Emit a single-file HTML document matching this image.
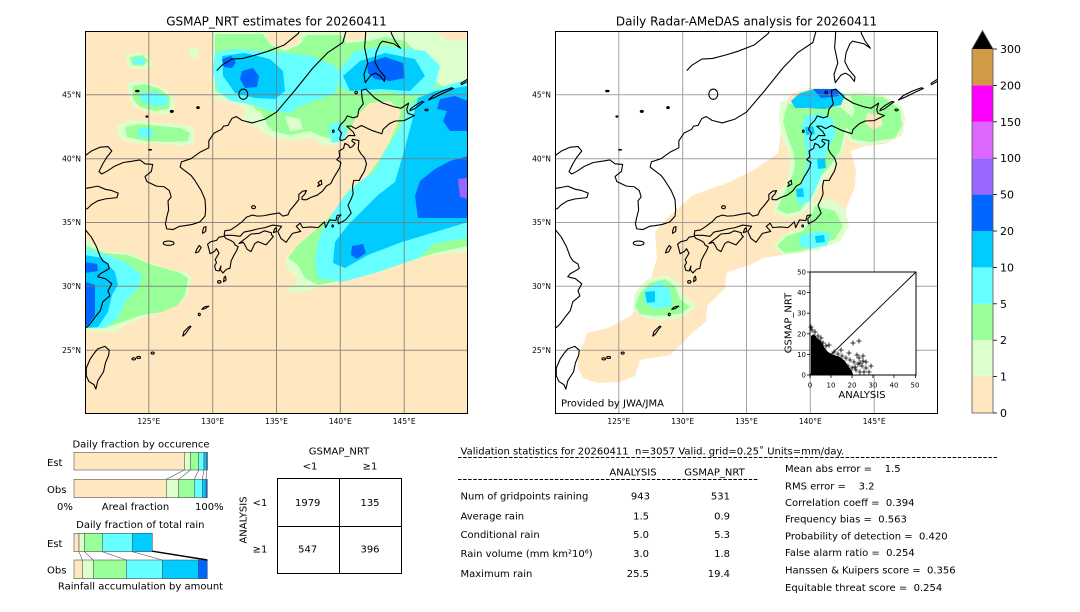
<!DOCTYPE html>
<html><head><meta charset="utf-8"><style>
html,body{margin:0;padding:0;background:#fff;width:1080px;height:612px;overflow:hidden}
svg text{font-family:"DejaVu Sans","Liberation Sans",sans-serif;fill:#000}
</style></head><body>
<svg width="1080" height="612" viewBox="0 0 1080 612" xmlns="http://www.w3.org/2000/svg">
<rect width="1080" height="612" fill="#fff"/>

<!-- Titles -->
<text x="276.5" y="25.5" font-size="12" text-anchor="middle">GSMAP_NRT estimates for 20260411</text>
<text x="746.5" y="25.5" font-size="12" text-anchor="middle">Daily Radar-AMeDAS analysis for 20260411</text>

<!-- ============ LEFT MAP ============ -->
<svg x="85" y="31" width="383" height="383" viewBox="0 0 383 383" overflow="hidden">
<rect width="383" height="383" fill="#FFE8BF"/>
<g fill="#DCFFCC">
<polygon points="127,0 383,0 383,221 350,224 317,232 283,244 253,251 233,257 213,262 200,259 210,254 212,247 203,238 200,230 207,221 230,201 247,191 262,174 270,160 287,147 300,127 307,113 317,93 323,77 320,65 300,62 277,67 267,80 260,100 253,113 240,115 227,107 207,110 187,107 173,97 167,80 147,72 127,67"/>
<polygon points="105,15 115,18 112,28 104,26"/>
<polygon points="40,24 55,21 66,26 67,35 57,39 44,37"/>
<polygon points="42,52 55,50 70,54 85,62 90,72 88,82 75,83 60,80 48,75 44,65"/>
<polygon points="32,94 45,89 60,90 75,92 90,93 105,95 110,102 108,113 95,115 75,112 55,113 38,110 32,102"/>
<polygon points="0,207 20,221 43,222 63,231 80,237 100,241 107,247 103,261 97,271 83,277 67,284 57,287 40,294 30,301 13,301 0,301"/>
</g>
<g fill="#FFE8BF">
<polygon points="180,0 215,0 213,13 198,18 184,12"/>
<polygon points="258,0 282,0 280,8 262,10"/>
<polygon points="350,0 383,0 383,10 362,9"/>
</g>
<g fill="#99FF99">
<polygon points="130,3 178,3 186,14 200,20 214,14 222,4 256,4 262,12 283,10 300,6 320,10 333,22 345,45 358,56 383,50 383,215 350,222 300,238 260,249 233,254 220,247 213,234 203,227 213,214 233,197 253,177 263,160 280,148 295,128 305,110 313,92 316,80 305,70 285,72 272,85 262,103 250,108 238,106 225,100 205,104 188,100 177,88 168,75 148,68 130,60"/>
<polygon points="48,55 60,53 75,58 85,66 84,78 70,80 55,76 48,68"/>
<polygon points="40,96 55,93 75,95 95,97 105,102 103,110 85,111 60,110 42,106"/>
<polygon points="45,26 58,24 63,30 58,35 47,34"/>
<polygon points="0,214 20,222 43,224 67,234 93,241 103,247 100,264 93,274 77,281 57,284 37,291 20,297 0,297"/>
</g>
<g fill="#DCFFCC">
<polygon points="160,78 175,80 182,92 170,96 158,88"/>
<polygon points="200,85 215,88 218,98 205,100"/>
</g>
<g fill="#66FFFF">
<polygon points="130,22 150,18 175,20 200,22 225,25 250,35 255,45 250,62 235,68 215,75 205,82 185,80 165,73 145,70 133,60 128,40"/>
<polygon points="253,40 270,20 300,15 340,20 355,35 350,55 330,65 300,60 275,62 255,58"/>
<polygon points="243,95 255,90 262,100 258,110 247,112"/>
<polygon points="325,75 340,60 360,55 383,48 383,207 350,212 333,227 293,241 257,251 233,247 230,231 233,211 240,194 260,164 273,152 290,140 300,120 313,100"/>
<polygon points="55,62 70,60 83,66 82,74 68,75 56,70"/>
<polygon points="53,97 67,97 68,106 55,107"/>
<polygon points="48,28 58,27 60,33 49,33"/>
<polygon points="0,217 23,224 40,231 57,244 53,257 40,271 33,287 20,297 0,297"/>
</g>
<g fill="#00CCFF">
<polygon points="137,25 160,22 185,28 198,40 200,60 190,68 170,67 150,62 138,45"/>
<polygon points="258,45 275,30 300,22 330,28 340,45 325,60 295,58 265,60"/>
<polygon points="333,67 350,60 383,55 383,191 350,201 317,211 283,224 260,237 248,232 250,211 263,194 280,177 293,164 310,151 320,117"/>
<polygon points="0,224 17,227 30,241 33,254 27,264 23,281 13,296 0,297"/>
</g>
<g fill="#0066FF">
<polygon points="137,28 146,25 151,31 147,37 139,36"/>
<polygon points="157,40 168,37 174,45 172,56 160,57 155,48"/>
<polygon points="282,32 300,26 318,32 320,47 305,50 290,48 283,42"/>
<polygon points="355,68 370,65 383,70 383,100 365,100 358,90 362,80 352,78"/>
<polygon points="383,125 365,130 350,138 335,150 330,165 333,187 383,187"/>
<polygon points="267,215 278,213 281,222 272,228 266,224"/>
<polygon points="0,251 10,254 10,284 3,294 0,294"/>
<polygon points="0,231 12,233 13,240 0,242"/>
</g>
<polygon fill="#9966FF" points="373,148 383,147 383,168 375,166"/>
<g stroke="#7a7a7a" stroke-width="1" opacity="0.85">
<line x1="63.8" y1="0" x2="63.8" y2="383"/><line x1="127.7" y1="0" x2="127.7" y2="383"/><line x1="191.5" y1="0" x2="191.5" y2="383"/><line x1="255.3" y1="0" x2="255.3" y2="383"/><line x1="319.2" y1="0" x2="319.2" y2="383"/>
<line y1="63.8" x1="0" y2="63.8" x2="383"/><line y1="127.7" x1="0" y2="127.7" x2="383"/><line y1="191.5" x1="0" y2="191.5" x2="383"/><line y1="255.3" x1="0" y2="255.3" x2="383"/><line y1="319.2" x1="0" y2="319.2" x2="383"/>
</g>
<g transform="matrix(12.767 0 0 -12.767 -1532.04 638.35)" fill="none" stroke="#000" stroke-width="1.1" stroke-linejoin="round">
<polyline vector-effect="non-scaling-stroke" points="119.9,40.15 120.5,40.6 121.2,40.9 121.8,40.95 122.1,40.6 121.7,40.1 121.4,39.6 121.1,39.0 121.3,38.8 121.7,39.0 122.3,39.4 123.0,39.7 123.7,39.8 124.3,39.9 124.7,39.6 125.3,39.55 125.2,39.0 124.7,38.6 124.85,38.2 125.6,37.85 126.2,37.8 126.6,37.5 126.75,37.0 126.5,36.7 126.55,36.0 126.4,35.4 126.3,34.9 126.4,34.5 126.9,34.45 127.4,34.7 127.8,34.75 128.4,34.85 129.0,35.05 129.4,35.5 129.45,36.0 129.4,36.8 129.1,37.5 128.6,38.3 128.3,38.7 127.7,39.15 127.45,39.35 127.55,39.75 128.3,40.0 129.0,40.5 129.7,40.85 129.7,41.4 130.1,42.0 130.7,42.3 130.85,42.55 131.2,42.6 131.5,43.15 131.85,43.3 132.0,43.2 132.3,43.0 133.1,42.8 134.1,43.1 135.0,43.65 136.4,45.3 137.85,47.1 139.0,48.3 140.2,49.1 140.5,50.2"/>
<polyline vector-effect="non-scaling-stroke" points="119.9,37.65 120.5,37.75 121.0,37.85 121.6,37.6 122.1,37.5 122.6,37.3 122.5,36.95 121.6,36.85 121.0,36.7 120.5,36.4 120.2,36.1 119.9,36.0"/>
<polyline vector-effect="non-scaling-stroke" points="119.9,34.6 120.5,33.85 120.9,33.1 121.2,32.3 121.4,32.0 121.8,31.75 121.9,31.4 121.4,31.1 121.2,31.0 121.0,30.75 121.6,30.6 122.1,30.2 121.8,29.65 121.95,29.25 121.4,28.8 121.2,28.1 120.8,27.6 120.4,27.05 119.9,26.6"/>
<polyline vector-effect="non-scaling-stroke" points="130.32,46.9 130.7,47.3 131.5,47.8 132.35,47.85 133.3,48.1 134.3,48.4 135.6,48.9 136.7,49.8 136.9,50.2"/>
<polyline vector-effect="non-scaling-stroke" points="142.0,50.2 141.95,49.3 141.9,48.7 142.15,47.5 141.85,46.6 141.95,45.95 142.4,46.55 142.75,46.7 143.1,46.5 143.45,46.05 143.5,46.4 143.0,47.0 142.7,47.6 142.8,48.3 143.1,49.0 143.3,49.2 144.2,49.0 144.7,48.65 144.3,49.2 144.0,49.8 143.95,50.2"/>
<polygon vector-effect="non-scaling-stroke" points="130.9,34.0 130.95,34.35 131.4,34.42 131.8,34.68 132.3,35.05 132.65,35.42 133.1,35.58 133.5,35.5 134.0,35.53 134.5,35.63 135.2,35.75 135.5,35.5 135.9,35.6 136.05,35.95 136.4,36.35 136.75,36.8 136.75,37.2 137.05,37.45 137.35,37.5 137.2,37.2 137.0,37.0 137.0,36.8 137.35,36.78 137.65,36.95 138.2,37.15 138.6,37.45 138.9,37.85 139.25,38.05 139.5,38.55 139.75,38.95 139.95,39.3 140.05,39.7 139.72,39.92 139.95,40.15 139.9,40.6 140.25,40.8 140.35,41.2 140.65,41.05 140.75,40.85 140.95,40.95 141.15,41.2 140.9,41.38 140.95,41.52 141.45,41.42 141.4,40.75 141.6,40.4 141.9,40.05 142.05,39.6 141.9,39.05 141.55,38.45 141.5,38.3 141.05,38.3 140.95,37.8 141.0,37.25 140.85,36.85 140.6,36.35 140.85,35.73 140.4,35.2 139.85,34.9 139.8,35.3 140.05,35.6 139.75,35.55 139.65,35.15 139.15,35.2 138.85,34.6 138.75,35.05 138.25,34.6 137.65,34.65 137.05,34.6 136.85,34.95 136.55,34.7 136.9,34.3 136.25,34.15 135.75,33.45 135.35,33.75 135.1,34.3 135.4,34.7 134.7,34.8 134.1,34.6 133.55,34.5 132.95,34.35 132.45,34.25 132.15,33.92 131.55,34.0"/>
<polygon vector-effect="non-scaling-stroke" points="132.05,33.35 132.7,33.85 133.0,34.1 133.65,34.15 134.05,34.35 134.6,34.2 134.6,34.05 134.75,33.9 134.18,33.25 133.55,33.5 133.3,33.35 133.0,32.72 132.7,32.9 132.55,33.2 132.4,33.45"/>
<polygon vector-effect="non-scaling-stroke" points="130.9,33.92 131.05,33.75 131.4,33.6 131.65,33.45 131.75,33.25 132.0,33.1 131.85,32.75 131.7,32.5 131.45,32.0 131.35,31.4 131.1,31.35 130.8,31.05 130.6,31.3 130.65,31.6 130.5,31.2 130.25,31.25 130.15,31.6 130.3,31.85 130.2,32.1 130.5,32.6 130.3,32.95 130.15,32.75 129.8,32.55 129.7,32.95 129.6,33.3 129.85,33.5 130.3,33.6 130.5,33.85"/>
<polygon vector-effect="non-scaling-stroke" points="140.05,41.42 140.35,41.5 140.65,41.82 141.15,41.8 141.0,42.1 140.5,42.55 140.85,42.55 141.2,42.35 141.65,42.6 142.5,42.2 143.25,41.95 143.35,42.3 143.85,42.75 144.3,42.95 145.0,42.98 145.55,43.25 145.8,43.38 145.3,43.55 145.2,43.85 145.35,44.35 144.75,43.95 144.25,44.05 143.35,44.35 142.7,44.75 142.0,45.45 141.65,45.35 141.7,44.75 141.8,44.3 141.45,43.85 141.35,43.3 141.0,43.2 140.55,43.35 140.35,43.0 140.0,42.65 139.85,42.3 140.1,42.0 139.95,41.55"/>
<polygon vector-effect="non-scaling-stroke" points="121.0,25.1 121.55,25.3 121.9,25.0 121.85,24.6 121.6,24.0 121.45,23.3 121.0,22.6 120.85,21.95 120.7,22.3 120.3,22.55 120.1,23.0 120.1,23.6 120.4,24.3 120.75,24.8"/>
<polygon vector-effect="non-scaling-stroke" points="129.2,34.15 129.45,34.3 129.48,34.68 129.3,34.62 129.22,34.35"/>
<polygon vector-effect="non-scaling-stroke" points="128.65,32.62 128.9,32.7 129.1,33.05 128.95,33.2 128.75,32.9"/>
<polygon vector-effect="non-scaling-stroke" points="138.22,37.82 138.55,38.0 138.5,38.32 138.25,38.12 138.35,38.0"/>
<polygon vector-effect="non-scaling-stroke" points="134.75,34.2 135.0,34.3 134.98,34.6 134.85,34.5"/>
<polygon vector-effect="non-scaling-stroke" points="130.85,30.35 131.05,30.5 131.0,30.8 130.9,30.7"/>
<polygon vector-effect="non-scaling-stroke" points="129.15,28.2 129.4,28.25 129.7,28.45 129.45,28.42 129.3,28.35"/>
<polygon vector-effect="non-scaling-stroke" points="127.65,26.1 127.85,26.25 128.05,26.55 128.3,26.85 128.2,26.88 127.95,26.65 127.75,26.45 127.7,26.25"/>
<polygon vector-effect="non-scaling-stroke" points="145.45,43.75 145.8,43.9 146.2,44.2 146.55,44.45 146.4,44.48 145.9,44.2 145.5,43.9"/>
<polygon vector-effect="non-scaling-stroke" points="146.9,44.6 147.5,44.85 148.2,45.2 148.85,45.5 148.7,45.55 148.0,45.3 147.3,44.95"/>
<polygon vector-effect="non-scaling-stroke" points="149.5,45.8 150.2,46.2 150.0,46.25 149.45,45.9"/>
<ellipse vector-effect="non-scaling-stroke" cx="126.55" cy="33.38" rx="0.42" ry="0.17"/>
<ellipse vector-effect="non-scaling-stroke" cx="133.2" cy="36.2" rx="0.15" ry="0.12"/>
<ellipse vector-effect="non-scaling-stroke" cx="132.4" cy="45.05" rx="0.35" ry="0.4"/>
<ellipse vector-effect="non-scaling-stroke" cx="130.52" cy="30.35" rx="0.13" ry="0.1"/>
<ellipse vector-effect="non-scaling-stroke" cx="128.95" cy="27.8" rx="0.08" ry="0.1"/>
<ellipse vector-effect="non-scaling-stroke" cx="125.3" cy="24.77" rx="0.12" ry="0.08"/>
<ellipse vector-effect="non-scaling-stroke" cx="124.2" cy="24.43" rx="0.15" ry="0.08"/>
<ellipse vector-effect="non-scaling-stroke" cx="123.82" cy="24.32" rx="0.14" ry="0.08"/>
<ellipse vector-effect="non-scaling-stroke" cx="141.24" cy="45.18" rx="0.1" ry="0.1"/>
<ellipse vector-effect="non-scaling-stroke" cx="139.45" cy="42.15" rx="0.06" ry="0.1"/>
<ellipse vector-effect="non-scaling-stroke" cx="146.75" cy="43.82" rx="0.12" ry="0.07"/>
<ellipse vector-effect="non-scaling-stroke" cx="139.4" cy="34.73" rx="0.06" ry="0.08"/>
<g fill="#000" stroke="none"><ellipse cx="124.1" cy="45.3" rx="0.18" ry="0.1"/><ellipse cx="126.8" cy="43.7" rx="0.16" ry="0.12"/><ellipse cx="128.85" cy="44.0" rx="0.14" ry="0.12"/><ellipse cx="124.85" cy="43.3" rx="0.12" ry="0.09"/><ellipse cx="125.1" cy="40.7" rx="0.16" ry="0.07"/></g>
</g>
<rect x="0.5" y="0.5" width="382" height="382" fill="none" stroke="#000" stroke-width="1"/>
</svg>

<!-- Left map labels -->
<g font-size="7.5" text-anchor="end">
<text x="81" y="97.5">45°N</text><text x="81" y="161.4">40°N</text><text x="81" y="225.2">35°N</text><text x="81" y="289">30°N</text><text x="81" y="352.9">25°N</text>
</g>
<g font-size="7.5" text-anchor="middle">
<text x="148.8" y="424">125°E</text><text x="212.7" y="424">130°E</text><text x="276.5" y="424">135°E</text><text x="340.3" y="424">140°E</text><text x="404.2" y="424">145°E</text>
</g>

<!-- ============ RIGHT MAP ============ -->
<svg x="555" y="31" width="383" height="383" viewBox="0 0 383 383" overflow="hidden">
<rect width="383" height="383" fill="#fff"/>
<polygon fill="#FFE8BF" points="23,327 32,302 53,297 77,284 95,251 102,227 100,201 108,191 138,164 175,151 202,137 223,122 226,100 230,72 238,62 255,57 272,57 288,64 308,62 328,66 347,76 350,88 347,104 330,113 310,115 296,120 301,140 300,156 293,172 286,195 272,207 252,217 228,224 208,227 195,234 172,241 170,257 152,275 151,291 138,301 128,312 115,324 85,329 80,345 65,351 42,352 28,347 23,337"/>
<g fill="#DCFFCC">
<polygon points="285,62 310,61 330,65 347,76 349,90 345,104 330,112 305,114 290,108 285,95 292,82"/>
<polygon points="226,70 250,74 285,74 300,84 292,100 288,120 278,138 265,155 258,170 248,183 232,187 218,182 222,165 232,150 235,135 232,118 226,102 224,85"/>
<polygon points="255,172 275,168 290,178 294,195 285,210 265,218 245,222 228,224 218,216 228,204 245,198 252,188"/>
<polygon points="80,262 92,248 112,244 124,252 130,265 142,274 130,285 110,290 90,287 78,278"/>
</g>
<g fill="#99FF99">
<polygon points="295,64 328,66 345,78 347,95 340,107 315,111 297,108 292,95 300,80"/>
<polygon points="233,72 250,78 285,76 297,86 290,100 285,120 275,135 262,150 255,165 245,180 232,183 222,178 228,165 236,150 240,135 238,120 232,105 228,90"/>
<polygon points="260,175 280,180 288,195 280,208 262,215 245,220 230,222 222,215 232,205 248,200 255,190"/>
<polygon points="85,262 95,252 110,248 120,255 125,268 135,276 125,283 100,285 85,283 80,275"/>
</g>
<polygon fill="#FFE8BF" points="312,82 325,84 328,94 318,99 310,92"/>
<g fill="#66FFFF">
<polygon points="250,85 265,82 278,88 280,105 272,120 268,140 262,155 255,170 245,175 240,165 248,150 252,130 250,110 247,95"/>
<polygon points="245,205 262,200 276,203 272,214 255,218 244,214"/>
<polygon points="90,258 105,250 115,258 117,275 100,278 90,272"/>
</g>
<g fill="#00CCFF">
<polygon points="236,70 245,62 260,58 280,58 290,64 286,74 270,78 250,77 240,77"/>
<polygon points="250,96 258,95 260,103 251,104"/>
<polygon points="262,128 270,127 271,137 263,138"/>
<polygon points="241,158 248,157 249,166 242,166"/>
<polygon points="260,205 269,204 270,211 261,212"/>
<polygon points="90,261 100,260 100,271 92,272"/>
</g>
<polygon fill="#0066FF" points="258,58 282,58 284,65 266,67"/>
<g stroke="#8a8a8a" stroke-width="1" opacity="0.8">
<line x1="63.8" y1="0" x2="63.8" y2="383"/><line x1="127.7" y1="0" x2="127.7" y2="383"/><line x1="191.5" y1="0" x2="191.5" y2="383"/><line x1="255.3" y1="0" x2="255.3" y2="383"/><line x1="319.2" y1="0" x2="319.2" y2="383"/>
<line y1="63.8" x1="0" y2="63.8" x2="383"/><line y1="127.7" x1="0" y2="127.7" x2="383"/><line y1="191.5" x1="0" y2="191.5" x2="383"/><line y1="255.3" x1="0" y2="255.3" x2="383"/><line y1="319.2" x1="0" y2="319.2" x2="383"/>
</g>
<g transform="matrix(12.767 0 0 -12.767 -1532.04 638.35)" fill="none" stroke="#000" stroke-width="1.1" stroke-linejoin="round">
<polyline vector-effect="non-scaling-stroke" points="119.9,40.15 120.5,40.6 121.2,40.9 121.8,40.95 122.1,40.6 121.7,40.1 121.4,39.6 121.1,39.0 121.3,38.8 121.7,39.0 122.3,39.4 123.0,39.7 123.7,39.8 124.3,39.9 124.7,39.6 125.3,39.55 125.2,39.0 124.7,38.6 124.85,38.2 125.6,37.85 126.2,37.8 126.6,37.5 126.75,37.0 126.5,36.7 126.55,36.0 126.4,35.4 126.3,34.9 126.4,34.5 126.9,34.45 127.4,34.7 127.8,34.75 128.4,34.85 129.0,35.05 129.4,35.5 129.45,36.0 129.4,36.8 129.1,37.5 128.6,38.3 128.3,38.7 127.7,39.15 127.45,39.35 127.55,39.75 128.3,40.0 129.0,40.5 129.7,40.85 129.7,41.4 130.1,42.0 130.7,42.3 130.85,42.55 131.2,42.6 131.5,43.15 131.85,43.3 132.0,43.2 132.3,43.0 133.1,42.8 134.1,43.1 135.0,43.65 136.4,45.3 137.85,47.1 139.0,48.3 140.2,49.1 140.5,50.2"/>
<polyline vector-effect="non-scaling-stroke" points="119.9,37.65 120.5,37.75 121.0,37.85 121.6,37.6 122.1,37.5 122.6,37.3 122.5,36.95 121.6,36.85 121.0,36.7 120.5,36.4 120.2,36.1 119.9,36.0"/>
<polyline vector-effect="non-scaling-stroke" points="119.9,34.6 120.5,33.85 120.9,33.1 121.2,32.3 121.4,32.0 121.8,31.75 121.9,31.4 121.4,31.1 121.2,31.0 121.0,30.75 121.6,30.6 122.1,30.2 121.8,29.65 121.95,29.25 121.4,28.8 121.2,28.1 120.8,27.6 120.4,27.05 119.9,26.6"/>
<polyline vector-effect="non-scaling-stroke" points="130.32,46.9 130.7,47.3 131.5,47.8 132.35,47.85 133.3,48.1 134.3,48.4 135.6,48.9 136.7,49.8 136.9,50.2"/>
<polyline vector-effect="non-scaling-stroke" points="142.0,50.2 141.95,49.3 141.9,48.7 142.15,47.5 141.85,46.6 141.95,45.95 142.4,46.55 142.75,46.7 143.1,46.5 143.45,46.05 143.5,46.4 143.0,47.0 142.7,47.6 142.8,48.3 143.1,49.0 143.3,49.2 144.2,49.0 144.7,48.65 144.3,49.2 144.0,49.8 143.95,50.2"/>
<polygon vector-effect="non-scaling-stroke" points="130.9,34.0 130.95,34.35 131.4,34.42 131.8,34.68 132.3,35.05 132.65,35.42 133.1,35.58 133.5,35.5 134.0,35.53 134.5,35.63 135.2,35.75 135.5,35.5 135.9,35.6 136.05,35.95 136.4,36.35 136.75,36.8 136.75,37.2 137.05,37.45 137.35,37.5 137.2,37.2 137.0,37.0 137.0,36.8 137.35,36.78 137.65,36.95 138.2,37.15 138.6,37.45 138.9,37.85 139.25,38.05 139.5,38.55 139.75,38.95 139.95,39.3 140.05,39.7 139.72,39.92 139.95,40.15 139.9,40.6 140.25,40.8 140.35,41.2 140.65,41.05 140.75,40.85 140.95,40.95 141.15,41.2 140.9,41.38 140.95,41.52 141.45,41.42 141.4,40.75 141.6,40.4 141.9,40.05 142.05,39.6 141.9,39.05 141.55,38.45 141.5,38.3 141.05,38.3 140.95,37.8 141.0,37.25 140.85,36.85 140.6,36.35 140.85,35.73 140.4,35.2 139.85,34.9 139.8,35.3 140.05,35.6 139.75,35.55 139.65,35.15 139.15,35.2 138.85,34.6 138.75,35.05 138.25,34.6 137.65,34.65 137.05,34.6 136.85,34.95 136.55,34.7 136.9,34.3 136.25,34.15 135.75,33.45 135.35,33.75 135.1,34.3 135.4,34.7 134.7,34.8 134.1,34.6 133.55,34.5 132.95,34.35 132.45,34.25 132.15,33.92 131.55,34.0"/>
<polygon vector-effect="non-scaling-stroke" points="132.05,33.35 132.7,33.85 133.0,34.1 133.65,34.15 134.05,34.35 134.6,34.2 134.6,34.05 134.75,33.9 134.18,33.25 133.55,33.5 133.3,33.35 133.0,32.72 132.7,32.9 132.55,33.2 132.4,33.45"/>
<polygon vector-effect="non-scaling-stroke" points="130.9,33.92 131.05,33.75 131.4,33.6 131.65,33.45 131.75,33.25 132.0,33.1 131.85,32.75 131.7,32.5 131.45,32.0 131.35,31.4 131.1,31.35 130.8,31.05 130.6,31.3 130.65,31.6 130.5,31.2 130.25,31.25 130.15,31.6 130.3,31.85 130.2,32.1 130.5,32.6 130.3,32.95 130.15,32.75 129.8,32.55 129.7,32.95 129.6,33.3 129.85,33.5 130.3,33.6 130.5,33.85"/>
<polygon vector-effect="non-scaling-stroke" points="140.05,41.42 140.35,41.5 140.65,41.82 141.15,41.8 141.0,42.1 140.5,42.55 140.85,42.55 141.2,42.35 141.65,42.6 142.5,42.2 143.25,41.95 143.35,42.3 143.85,42.75 144.3,42.95 145.0,42.98 145.55,43.25 145.8,43.38 145.3,43.55 145.2,43.85 145.35,44.35 144.75,43.95 144.25,44.05 143.35,44.35 142.7,44.75 142.0,45.45 141.65,45.35 141.7,44.75 141.8,44.3 141.45,43.85 141.35,43.3 141.0,43.2 140.55,43.35 140.35,43.0 140.0,42.65 139.85,42.3 140.1,42.0 139.95,41.55"/>
<polygon vector-effect="non-scaling-stroke" points="121.0,25.1 121.55,25.3 121.9,25.0 121.85,24.6 121.6,24.0 121.45,23.3 121.0,22.6 120.85,21.95 120.7,22.3 120.3,22.55 120.1,23.0 120.1,23.6 120.4,24.3 120.75,24.8"/>
<polygon vector-effect="non-scaling-stroke" points="129.2,34.15 129.45,34.3 129.48,34.68 129.3,34.62 129.22,34.35"/>
<polygon vector-effect="non-scaling-stroke" points="128.65,32.62 128.9,32.7 129.1,33.05 128.95,33.2 128.75,32.9"/>
<polygon vector-effect="non-scaling-stroke" points="138.22,37.82 138.55,38.0 138.5,38.32 138.25,38.12 138.35,38.0"/>
<polygon vector-effect="non-scaling-stroke" points="134.75,34.2 135.0,34.3 134.98,34.6 134.85,34.5"/>
<polygon vector-effect="non-scaling-stroke" points="130.85,30.35 131.05,30.5 131.0,30.8 130.9,30.7"/>
<polygon vector-effect="non-scaling-stroke" points="129.15,28.2 129.4,28.25 129.7,28.45 129.45,28.42 129.3,28.35"/>
<polygon vector-effect="non-scaling-stroke" points="127.65,26.1 127.85,26.25 128.05,26.55 128.3,26.85 128.2,26.88 127.95,26.65 127.75,26.45 127.7,26.25"/>
<polygon vector-effect="non-scaling-stroke" points="145.45,43.75 145.8,43.9 146.2,44.2 146.55,44.45 146.4,44.48 145.9,44.2 145.5,43.9"/>
<polygon vector-effect="non-scaling-stroke" points="146.9,44.6 147.5,44.85 148.2,45.2 148.85,45.5 148.7,45.55 148.0,45.3 147.3,44.95"/>
<polygon vector-effect="non-scaling-stroke" points="149.5,45.8 150.2,46.2 150.0,46.25 149.45,45.9"/>
<ellipse vector-effect="non-scaling-stroke" cx="126.55" cy="33.38" rx="0.42" ry="0.17"/>
<ellipse vector-effect="non-scaling-stroke" cx="133.2" cy="36.2" rx="0.15" ry="0.12"/>
<ellipse vector-effect="non-scaling-stroke" cx="132.4" cy="45.05" rx="0.35" ry="0.4"/>
<ellipse vector-effect="non-scaling-stroke" cx="130.52" cy="30.35" rx="0.13" ry="0.1"/>
<ellipse vector-effect="non-scaling-stroke" cx="128.95" cy="27.8" rx="0.08" ry="0.1"/>
<ellipse vector-effect="non-scaling-stroke" cx="125.3" cy="24.77" rx="0.12" ry="0.08"/>
<ellipse vector-effect="non-scaling-stroke" cx="124.2" cy="24.43" rx="0.15" ry="0.08"/>
<ellipse vector-effect="non-scaling-stroke" cx="123.82" cy="24.32" rx="0.14" ry="0.08"/>
<ellipse vector-effect="non-scaling-stroke" cx="141.24" cy="45.18" rx="0.1" ry="0.1"/>
<ellipse vector-effect="non-scaling-stroke" cx="139.45" cy="42.15" rx="0.06" ry="0.1"/>
<ellipse vector-effect="non-scaling-stroke" cx="146.75" cy="43.82" rx="0.12" ry="0.07"/>
<ellipse vector-effect="non-scaling-stroke" cx="139.4" cy="34.73" rx="0.06" ry="0.08"/>
<g fill="#000" stroke="none"><ellipse cx="124.1" cy="45.3" rx="0.18" ry="0.1"/><ellipse cx="126.8" cy="43.7" rx="0.16" ry="0.12"/><ellipse cx="128.85" cy="44.0" rx="0.14" ry="0.12"/><ellipse cx="124.85" cy="43.3" rx="0.12" ry="0.09"/><ellipse cx="125.1" cy="40.7" rx="0.16" ry="0.07"/></g>
</g>
<rect x="0.5" y="0.5" width="382" height="382" fill="none" stroke="#000" stroke-width="1"/>
</svg>
<text x="561" y="406.6" font-size="10">Provided by JWA/JMA</text>

<!-- Right map labels -->
<g font-size="7.5" text-anchor="end">
<text x="551" y="97.5">45°N</text><text x="551" y="161.4">40°N</text><text x="551" y="225.2">35°N</text><text x="551" y="289">30°N</text><text x="551" y="352.9">25°N</text>
</g>
<g font-size="7.5" text-anchor="middle">
<text x="618.8" y="424">125°E</text><text x="682.7" y="424">130°E</text><text x="746.5" y="424">135°E</text><text x="810.3" y="424">140°E</text><text x="874.2" y="424">145°E</text>
</g>

<!-- Scatter inset -->
<rect x="810" y="272" width="106" height="103" fill="#fff" stroke="#000" stroke-width="1"/>
<line x1="810" y1="375" x2="916" y2="272" stroke="#000" stroke-width="0.9"/>
<polygon fill="#000" points="811,336 814,334 817,338 821,341 824,347 828,352 834,355 840,357 845,361 848,366 852,371 853,374.5 811,374.5"/>
<path stroke="#000" stroke-width="0.8" fill="none" d="
M809.5,330h5M812,327.5v5 M812.5,332h5M815,329.5v5 M808.5,327h5M811,324.5v5 M815.5,336h5M818,333.5v5 M818.5,338h5M821,335.5v5 M820.5,343h5M823,340.5v5 M823.5,346h5M826,343.5v5 M826.5,345h5M829,342.5v5 M817.5,342h5M820,339.5v5
M831.5,352h5M834,349.5v5 M835.5,354h5M838,351.5v5 M839.5,356h5M842,353.5v5 M843.5,358h5M846,355.5v5 M847.5,360h5M850,357.5v5 M851.5,362h5M854,359.5v5 M855.5,364h5M858,361.5v5 M859.5,366h5M862,363.5v5 M863.5,368h5M866,365.5v5
M845.5,366h5M848,363.5v5 M849.5,368h5M852,365.5v5 M853.5,370h5M856,367.5v5 M857.5,372h5M860,369.5v5 M861.5,372h5M864,369.5v5 M844.5,372h5M847,369.5v5 M852.5,367h5M855,364.5v5
M856.5,358h5M859,355.5v5 M860.5,361h5M863,358.5v5 M854.5,355h5M857,352.5v5 M846.5,353h5M849,350.5v5 M838.5,350h5M841,347.5v5
M850.5,343h5M853,340.5v5 M856.5,341h5M859,338.5v5 M860.5,356h5M863,353.5v5 M857.5,363h5M860,360.5v5 M863.5,362h5M866,359.5v5 M866.5,372h5M869,369.5v5 M868.5,366h5M871,363.5v5"/>
<g stroke="#000" stroke-width="0.8">
<line x1="810" y1="375" x2="810" y2="378"/><line x1="831" y1="375" x2="831" y2="378"/><line x1="852" y1="375" x2="852" y2="378"/><line x1="873" y1="375" x2="873" y2="378"/><line x1="894" y1="375" x2="894" y2="378"/><line x1="915.5" y1="375" x2="915.5" y2="378"/>
<line x1="807" y1="375" x2="810" y2="375"/><line x1="807" y1="354.4" x2="810" y2="354.4"/><line x1="807" y1="333.8" x2="810" y2="333.8"/><line x1="807" y1="313.2" x2="810" y2="313.2"/><line x1="807" y1="292.6" x2="810" y2="292.6"/><line x1="807" y1="272" x2="810" y2="272"/>
</g>
<g font-size="7" text-anchor="middle">
<text x="810" y="387.5">0</text><text x="831" y="387.5">10</text><text x="852" y="387.5">20</text><text x="873" y="387.5">30</text><text x="894" y="387.5">40</text><text x="915" y="387.5">50</text>
</g>
<g font-size="7" text-anchor="end">
<text x="806" y="377.5">0</text><text x="806" y="357">10</text><text x="806" y="336.3">20</text><text x="806" y="315.7">30</text><text x="806" y="295.1">40</text><text x="806" y="274.5">50</text>
</g>
<text x="862" y="398" font-size="10" text-anchor="middle">ANALYSIS</text>
<text transform="translate(791.5,323) rotate(-90)" font-size="10" text-anchor="middle">GSMAP_NRT</text>

<!-- Colorbar -->
<g stroke="none">
<rect x="972" y="376.6" width="21" height="36.4" fill="#FFE8BF"/>
<rect x="972" y="340.2" width="21" height="36.4" fill="#DCFFCC"/>
<rect x="972" y="303.8" width="21" height="36.4" fill="#99FF99"/>
<rect x="972" y="267.4" width="21" height="36.4" fill="#66FFFF"/>
<rect x="972" y="231" width="21" height="36.4" fill="#00CCFF"/>
<rect x="972" y="194.6" width="21" height="36.4" fill="#0066FF"/>
<rect x="972" y="158.2" width="21" height="36.4" fill="#9966FF"/>
<rect x="972" y="121.8" width="21" height="36.4" fill="#DD66FF"/>
<rect x="972" y="85.4" width="21" height="36.4" fill="#FF00FF"/>
<rect x="972" y="49" width="21" height="36.4" fill="#D09A46"/>
<polygon points="972,49 993,49 982.5,30.5" fill="#000"/>
</g>
<polygon points="972,413 972,49 982.5,30.5 993,49 993,413" fill="none" stroke="#555" stroke-width="0.8"/>
<g stroke="#000" stroke-width="0.8">
<line x1="993" y1="413" x2="997" y2="413"/><line x1="993" y1="376.6" x2="997" y2="376.6"/><line x1="993" y1="340.2" x2="997" y2="340.2"/><line x1="993" y1="303.8" x2="997" y2="303.8"/><line x1="993" y1="267.4" x2="997" y2="267.4"/><line x1="993" y1="231" x2="997" y2="231"/><line x1="993" y1="194.6" x2="997" y2="194.6"/><line x1="993" y1="158.2" x2="997" y2="158.2"/><line x1="993" y1="121.8" x2="997" y2="121.8"/><line x1="993" y1="85.4" x2="997" y2="85.4"/><line x1="993" y1="49" x2="997" y2="49"/>
</g>
<g font-size="11">
<text x="1000" y="417">0</text><text x="1000" y="380.6">1</text><text x="1000" y="344.2">2</text><text x="1000" y="307.8">5</text><text x="1000" y="271.4">10</text><text x="1000" y="235">20</text><text x="1000" y="198.6">50</text><text x="1000" y="162.2">100</text><text x="1000" y="125.8">150</text><text x="1000" y="89.4">200</text><text x="1000" y="53">300</text>
</g>

<!-- ============ Bottom-left bar charts ============ -->
<text x="141" y="447.6" font-size="10" text-anchor="middle">Daily fraction by occurence</text>
<text x="47" y="466" font-size="10">Est</text>
<text x="47" y="493" font-size="10">Obs</text>
<g stroke="#555" stroke-width="0.6">
<rect x="74" y="452.3" width="110.3" height="17.7" fill="#FFE8BF"/>
<rect x="184.3" y="452.3" width="6" height="17.7" fill="#DCFFCC"/>
<rect x="190.3" y="452.3" width="8.4" height="17.7" fill="#99FF99"/>
<rect x="198.7" y="452.3" width="5.3" height="17.7" fill="#66FFFF"/>
<rect x="204" y="452.3" width="2.7" height="17.7" fill="#00CCFF"/>
<rect x="206.7" y="452.3" width="0.8" height="17.7" fill="#0066FF"/>
<rect x="74" y="479.3" width="92.3" height="18.4" fill="#FFE8BF"/>
<rect x="166.3" y="479.3" width="12.4" height="18.4" fill="#DCFFCC"/>
<rect x="178.7" y="479.3" width="15.6" height="18.4" fill="#99FF99"/>
<rect x="194.3" y="479.3" width="8" height="18.4" fill="#66FFFF"/>
<rect x="202.3" y="479.3" width="3.7" height="18.4" fill="#00CCFF"/>
<rect x="206" y="479.3" width="1.3" height="18.4" fill="#0066FF"/>
<line x1="184.3" y1="470" x2="166.3" y2="479.3"/><line x1="190.3" y1="470" x2="178.7" y2="479.3"/><line x1="198.7" y1="470" x2="194.3" y2="479.3"/><line x1="204" y1="470" x2="202.3" y2="479.3"/><line x1="206.7" y1="470" x2="206" y2="479.3"/>
</g>
<text x="57" y="510" font-size="10">0%</text>
<text x="135.5" y="510" font-size="10" text-anchor="middle">Areal fraction</text>
<text x="195" y="510" font-size="10">100%</text>

<text x="140.3" y="528" font-size="10" text-anchor="middle">Daily fraction of total rain</text>
<text x="47" y="547" font-size="10">Est</text>
<text x="47" y="573.6" font-size="10">Obs</text>
<g stroke="#555" stroke-width="0.6">
<rect x="74" y="533.3" width="5" height="18.4" fill="#FFE8BF"/>
<rect x="79" y="533.3" width="5.3" height="18.4" fill="#DCFFCC"/>
<rect x="84.3" y="533.3" width="18" height="18.4" fill="#99FF99"/>
<rect x="102.3" y="533.3" width="30" height="18.4" fill="#66FFFF"/>
<rect x="132.3" y="533.3" width="20" height="18.4" fill="#00CCFF"/>
<rect x="74" y="560" width="8.3" height="18.7" fill="#FFE8BF"/>
<rect x="82.3" y="560" width="11" height="18.7" fill="#DCFFCC"/>
<rect x="93.3" y="560" width="33" height="18.7" fill="#99FF99"/>
<rect x="126.3" y="560" width="36" height="18.7" fill="#66FFFF"/>
<rect x="162.3" y="560" width="36" height="18.7" fill="#00CCFF"/>
<rect x="198.3" y="560" width="9" height="18.7" fill="#0066FF"/>
<line x1="79" y1="551.7" x2="82.3" y2="560"/><line x1="84.3" y1="551.7" x2="93.3" y2="560"/><line x1="102.3" y1="551.7" x2="126.3" y2="560"/><line x1="132.3" y1="551.7" x2="162.3" y2="560"/>
</g>
<line x1="152.3" y1="551.2" x2="207.3" y2="560" stroke="#000" stroke-width="1.4"/>
<text x="140.5" y="589.6" font-size="10" text-anchor="middle">Rainfall accumulation by amount</text>

<!-- ============ Contingency table ============ -->
<text x="339" y="454.6" font-size="10" text-anchor="middle">GSMAP_NRT</text>
<text x="310" y="469.6" font-size="10" text-anchor="middle">&lt;1</text>
<text x="370" y="469.6" font-size="10" text-anchor="middle">≥1</text>
<text transform="translate(246.5,520) rotate(-90)" font-size="10" text-anchor="middle">ANALYSIS</text>
<text x="260" y="506" font-size="10" text-anchor="middle">&lt;1</text>
<text x="260" y="552.6" font-size="10" text-anchor="middle">≥1</text>
<g fill="none" stroke="#000" stroke-width="1">
<rect x="277.5" y="478.5" width="124" height="95"/>
<line x1="339.5" y1="478.5" x2="339.5" y2="573.5"/>
<line x1="277.5" y1="526.5" x2="401.5" y2="526.5"/>
</g>
<g font-size="10" text-anchor="middle">
<text x="307.7" y="506">1979</text><text x="370" y="506">135</text>
<text x="307.7" y="552.6">547</text><text x="370" y="552.6">396</text>
</g>

<!-- ============ Statistics ============ -->
<text x="460.5" y="454.3" font-size="10" xml:space="preserve">Validation statistics for 20260411  n=3057 Valid. grid=0.25˚ Units=mm/day.</text>
<line x1="458" y1="457.5" x2="997" y2="457.5" stroke="#000" stroke-width="0.9" stroke-dasharray="3.5,1.6"/>
<text x="633" y="475.3" font-size="10" text-anchor="middle">ANALYSIS</text>
<text x="714.5" y="475.3" font-size="10" text-anchor="middle">GSMAP_NRT</text>
<line x1="458" y1="479.5" x2="759" y2="479.5" stroke="#000" stroke-width="0.9" stroke-dasharray="3.5,1.6"/>
<g font-size="10">
<text x="460.5" y="499.6">Num of gridpoints raining</text>
<text x="460.5" y="519.6">Average rain</text>
<text x="460.5" y="537.9">Conditional rain</text>
<text x="460.5" y="556.9">Rain volume (mm km²10⁶)</text>
<text x="460.5" y="576.9">Maximum rain</text>
</g>
<g font-size="10" text-anchor="end">
<text x="650" y="499.6">943</text><text x="730" y="499.6">531</text>
<text x="649" y="519.6">1.5</text><text x="730" y="519.6">0.9</text>
<text x="649" y="537.9">5.0</text><text x="730" y="537.9">5.3</text>
<text x="649" y="556.9">3.0</text><text x="730" y="556.9">1.8</text>
<text x="649" y="576.9">25.5</text><text x="730" y="576.9">19.4</text>
</g>
<g font-size="10">
<text x="785" y="471.9" xml:space="preserve">Mean abs error =    1.5</text>
<text x="785" y="489.3" xml:space="preserve">RMS error =    3.2</text>
<text x="785" y="505.9" xml:space="preserve">Correlation coeff =  0.394</text>
<text x="785" y="522.6" xml:space="preserve">Frequency bias =  0.563</text>
<text x="785" y="539.3" xml:space="preserve">Probability of detection =  0.420</text>
<text x="785" y="555.9" xml:space="preserve">False alarm ratio =  0.254</text>
<text x="785" y="573.6" xml:space="preserve">Hanssen &amp; Kuipers score =  0.356</text>
<text x="785" y="590.9" xml:space="preserve">Equitable threat score =  0.254</text>
</g>
</svg>
</body></html>
